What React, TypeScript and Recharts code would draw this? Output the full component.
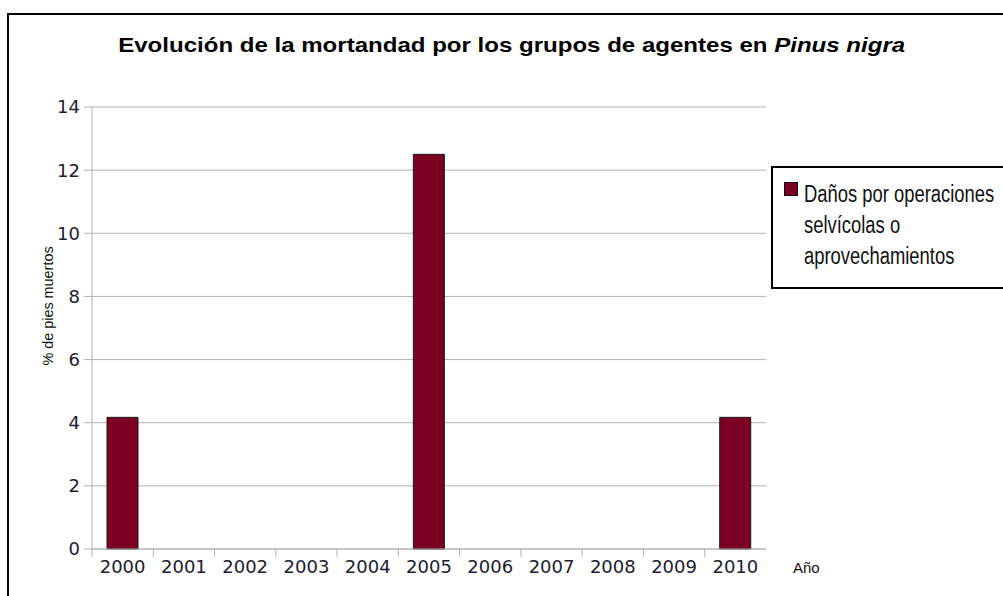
import React from 'react';
import { BarChart, Bar, XAxis, YAxis, CartesianGrid } from 'recharts';

const years = ['2000', '2001', '2002', '2003', '2004', '2005', '2006', '2007', '2008', '2009', '2010'];
const danosOperaciones = [4.17, 0, 0, 0, 0, 12.5, 0, 0, 0, 0, 4.17];
const yTicks = [0, 2, 4, 6, 8, 10, 12, 14];

const data = years.map((year, i) => ({ year, value: danosOperaciones[i] }));

const PLOT_LEFT = 92;
const PLOT_RIGHT = 766;
const BAND = (PLOT_RIGHT - PLOT_LEFT) / years.length;
const GRID = '#b3b3b3';
const BAR_COLOR = '#7b0021';
const TICK_COLOR = '#1c2030';

function YearTick(props: any) {
  const { x, y, payload } = props;
  return (
    <g>
      <line x1={x - BAND / 2} y1={y - 8} x2={x - BAND / 2} y2={y} stroke={GRID} />
      <text x={x} y={y + 16} textAnchor="middle" fontSize={18} fill={TICK_COLOR} fontFamily="DejaVu Sans">
        {payload.value}
      </text>
    </g>
  );
}

function LegendBox() {
  return (
    <div
      style={{
        position: 'absolute',
        left: 771,
        top: 166,
        border: '2px solid #000',
        background: '#fff',
        height: 123,
        width: 260,
        boxSizing: 'border-box',
        padding: '11px 0 0 11px',
        display: 'flex',
        fontFamily: '"Liberation Sans", Arial, sans-serif',
        fontSize: 23,
        lineHeight: '31px',
        color: '#111',
        textAlign: 'left',
      }}
    >
      <span
        style={{
          display: 'inline-block',
          width: 12,
          height: 12,
          background: BAR_COLOR,
          border: '1px solid #111',
          marginTop: 3,
          marginRight: 6,
          flex: 'none',
        }}
      />
      <span style={{ whiteSpace: 'nowrap', transform: 'scaleX(0.8)', transformOrigin: 'left top' }}>
        Daños por operaciones
        <br />
        selvícolas o
        <br />
        aprovechamientos
      </span>
    </div>
  );
}

export default function App() {
  return (
    <div
      style={{
        position: 'absolute',
        left: 0,
        top: 0,
        width: 1003,
        height: 596,
        overflow: 'hidden',
        background: '#fff',
        fontFamily: '"Liberation Sans", Arial, sans-serif',
      }}
    >
      <div
        style={{
          position: 'absolute',
          left: 7,
          top: 13,
          width: 1010,
          height: 600,
          border: '2px solid #000',
          boxSizing: 'border-box',
        }}
      />
      <div
        style={{
          position: 'absolute',
          left: 0,
          top: 33,
          width: 1003,
          textAlign: 'center',
          fontWeight: 'bold',
          fontSize: 21,
          color: '#000',
        }}
      >
        <span style={{ display: 'inline-block', transform: 'scaleX(1.145)', marginLeft: 20 }}>
          Evolución de la mortandad por los grupos de agentes en <i>Pinus nigra</i>
        </span>
      </div>
      <div style={{ position: 'absolute', left: 0, top: 0 }}>
        <BarChart
          width={1003}
          height={596}
          data={data}
          margin={{ top: 107, left: PLOT_LEFT - 40, right: 1003 - PLOT_RIGHT, bottom: 17 }}
          barSize={31}
        >
          <CartesianGrid vertical={false} stroke={GRID} yAxisId="left" />
          <XAxis
            dataKey="year"
            height={30}
            axisLine={{ stroke: GRID }}
            tickLine={false}
            tick={<YearTick />}
            interval={0}
            label={{ value: 'Año', position: 'right', offset: 27, fontSize: 15, fill: '#111', dy: 4 }}
          />
          <YAxis
            yAxisId="left"
            width={40}
            domain={[0, 14]}
            ticks={yTicks}
            interval={0}
            axisLine={{ stroke: GRID }}
            tickLine={{ stroke: GRID }}
            tickSize={8}
            tickMargin={4}
            tick={{ fontSize: 18, fill: TICK_COLOR, fontFamily: 'DejaVu Sans' }}
            label={{
              value: '% de pies muertos',
              angle: -90,
              position: 'insideLeft',
              offset: -4,
              dy: -22,
              style: { textAnchor: 'middle', fontSize: 14.4, fill: '#111' },
            }}
          />
          <YAxis
            yAxisId="right"
            orientation="right"
            width={0}
            domain={[0, 14]}
            tick={false}
            tickLine={false}
            axisLine={{ stroke: GRID }}
          />
          <Bar
            yAxisId="left"
            dataKey="value"
            name="Daños por operaciones selvícolas o aprovechamientos"
            fill={BAR_COLOR}
            stroke="#1a1a1a"
            strokeWidth={1}
            isAnimationActive={false}
          />
        </BarChart>
      </div>
      <LegendBox />
    </div>
  );
}
